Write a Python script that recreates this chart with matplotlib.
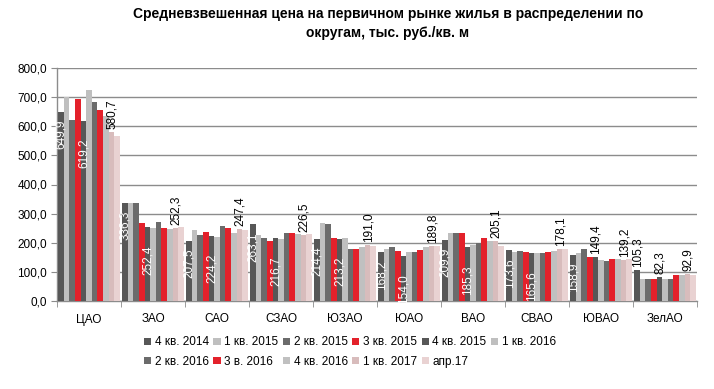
import matplotlib
matplotlib.use("Agg")
import matplotlib.pyplot as plt
import numpy as np
from matplotlib.patches import Patch

plt.rcParams['font.family'] = ['Liberation Sans', 'DejaVu Sans']

categories = ["ЦАО", "ЗАО", "САО", "СЗАО", "ЮЗАО", "ЮАО", "ВАО", "СВАО", "ЮВАО", "ЗелАО"]
series_names = ["4 кв. 2014", "1 кв. 2015", "2 кв. 2015", "3 кв. 2015", "4 кв. 2015",
                "1 кв. 2016", "2 кв. 2016", "3 в. 2016", "4 кв. 2016", "1 кв. 2017", "апр.17"]

q4_2014 = [649.9, 336.3, 207.5, 263.1, 214.4, 168.2, 209.9, 173.6, 158.9, 105.3]
q1_2015 = [701, 336, 244, 227, 267, 177, 235, 169, 166, 77]
q2_2015 = [620, 336, 227, 215, 264, 185, 233, 172, 179, 77]
q3_2015 = [693, 267, 238, 206, 217, 172, 233, 169, 152, 77]
q4_2015 = [619.2, 252.4, 224.2, 216.7, 213.2, 154.0, 185.3, 165.6, 149.4, 82.3]
q1_2016 = [726, 252, 219, 212, 215, 168, 192, 164, 141, 77]
q2_2016 = [684, 270, 259, 234, 177, 168, 198, 166, 137, 77]
q3_2016 = [657, 252, 250, 234, 179, 176, 215, 168, 143, 89]
q4_2016 = [635, 246, 235, 231, 184, 186, 206, 170, 144, 90]
q1_2017 = [580.7, 252.3, 247.4, 226.5, 191.0, 189.8, 205.1, 178.1, 139.2, 92.9]
apr_2017 = [566, 253, 244, 229, 190, 190, 190, 178, 143, 88]

series = [q4_2014, q1_2015, q2_2015, q3_2015, q4_2015, q1_2016, q2_2016,
          q3_2016, q4_2016, q1_2017, apr_2017]
colors = ["#575757", "#bfbfbf", "#6b6b6b", "#e3212b", "#575757", "#bfbfbf",
          "#6b6b6b", "#e3212b", "#c0c0c0", "#d8bcbc", "#e9d2d2"]

labelled = {0: 8, 4: 18}   # series index -> inside offset (pixels)
outside_series = [9]

fig = plt.figure(figsize=(7.14, 3.89), dpi=100)
ax = fig.add_axes([57/714, 1-301/389, 640/714, 233/389])

n = len(series)
group_w = 0.97
bw = group_w / n
x = np.arange(len(categories))
grid_color = "#8c8c8c"

for i, (vals, c) in enumerate(zip(series, colors)):
    pos = x - group_w/2 + bw*(i+0.5)
    ax.bar(pos, vals, width=bw, color=c, zorder=3, linewidth=0)
    if i in labelled or i in outside_series:
        for px, v in zip(pos, vals):
            txt = f"{v:.1f}".replace(".", ",")
            if i in labelled and v >= 150:
                ax.annotate(txt, (px, v), xytext=(0.5, -labelled[i]), textcoords="offset pixels",
                            rotation=90, ha="center", va="top", fontsize=8.5,
                            color="white", zorder=5)
            else:
                ax.annotate(txt, (px, v), xytext=(0.5, 3), textcoords="offset pixels",
                            rotation=90, ha="center", va="bottom", fontsize=8.5,
                            color="black", zorder=5)

ax.set_xlim(-0.5, len(categories)-0.5)
ax.set_ylim(0, 800)
ax.set_yticks(np.arange(0, 801, 100))
ax.set_yticklabels([f"{v:.1f}".replace(".", ",") for v in np.arange(0, 801, 100)], fontsize=8.5)
ax.yaxis.grid(True, color=grid_color, linewidth=1.0, zorder=0)
ax.set_axisbelow(True)

ax.set_xticks(x)
ax.set_xticklabels(categories, fontsize=8.5)
ax.tick_params(axis="x", which="major", length=0, pad=9)
ax.set_xticks(np.arange(-0.5, len(categories)), minor=True)
ax.tick_params(axis="x", which="minor", length=4, color=grid_color, direction="out")
ax.tick_params(axis="y", length=4, color=grid_color, direction="out", pad=3)

for s in ["top", "right"]:
    ax.spines[s].set_visible(False)
for s in ["left", "bottom"]:
    ax.spines[s].set_color(grid_color)
    ax.spines[s].set_linewidth(1.0)

fig.text(388/714, 1-14/389, "Средневзвешенная цена на первичном рынке жилья в распределении по",
         ha="center", va="center", fontsize=10, fontweight="bold")
fig.text(388/714, 1-33/389, "округам, тыс. руб./кв. м",
         ha="center", va="center", fontsize=10, fontweight="bold")

handles = [Patch(facecolor=c, label=nm) for c, nm in zip(colors, series_names)]
order = [0, 6, 1, 7, 2, 8, 3, 9, 4, 10, 5]
leg = fig.legend([handles[k] for k in order], [series_names[k] for k in order],
                 ncol=6, loc="center", bbox_to_anchor=(350/714, 1-352/389),
                 frameon=False, fontsize=8.5, handlelength=0.6, handleheight=0.6,
                 handletextpad=0.3, columnspacing=0.4, labelspacing=0.6)

fig.savefig("out.png", dpi=100)
